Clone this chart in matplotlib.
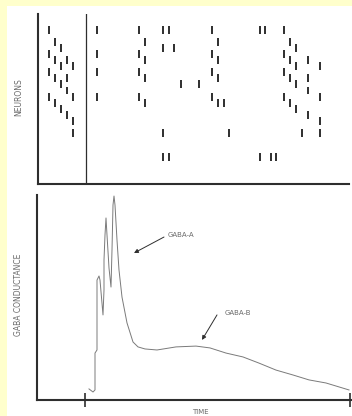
import matplotlib
matplotlib.use('Agg')
import matplotlib.pyplot as plt
from matplotlib.patches import Rectangle

# ========= data =========
# spike raster: one entry per spike time, with the neurons (rows, 0 = top) firing then
spike_times = [11, 17, 23, 29, 35, 59, 101, 107, 125, 131, 136, 143, 161,
               174, 180, 186, 191, 222, 227, 233, 238, 246, 252, 258, 264, 270, 282]
spike_neurons = [[0, 4, 7, 11], [2, 5, 8, 12], [3, 6, 9, 13], [5, 8, 10, 14],
                 [6, 11, 15, 17], [0, 4, 7, 11], [0, 4, 7, 11], [2, 5, 8, 12],
                 [0, 3, 17, 21], [0, 21], [3], [9], [9], [0, 4, 7, 11],
                 [2, 5, 8, 12], [12], [17], [0, 21], [0], [21], [21],
                 [0, 4, 7, 11], [2, 5, 8, 12], [3, 6, 9, 13], [17],
                 [5, 8, 10, 14], [6, 11, 15, 17]]
stim_time = 48
end_time = 312

# GABA conductance trace (arbitrary units)
gaba_t = [51, 55, 57, 57, 59, 59, 61, 62, 65, 66, 66, 67, 68, 69, 71, 73, 74,
          75, 76, 77, 79, 81, 84, 89, 95, 100, 107, 119, 138, 158, 172, 188,
          205, 221, 238, 255, 271, 288, 311]
gaba_g = [5.4, 3.9, 4.9, 22.9, 24.4, 58.5, 60.5, 58.5, 41.5, 53.7, 68.3, 80.5,
          88.8, 80.5, 64.4, 55.1, 73.2, 95.1, 99.5, 95.1, 78.0, 63.4, 50.2,
          37.6, 28.3, 25.9, 24.9, 24.4, 25.9, 26.3, 25.4, 22.9, 21.0, 18.0,
          14.6, 12.2, 9.8, 8.3, 4.9]

ink = '#2e2e2e'
txt = '#6a6a6a'

# ========= figure =========
fig = plt.figure(figsize=(3.52, 4.16), dpi=100)
fig.patch.set_facecolor('#ffffcc')
fig.patches.append(Rectangle((7/352, 0), 1, 410/416, transform=fig.transFigure,
                             facecolor='white', edgecolor='none', zorder=-10))

W, H = 352.0, 416.0
ax1 = fig.add_axes([38/W, 1 - 184/H, 311/W, 170/H])
ax2 = fig.add_axes([37/W, 1 - 400/H, 314/W, 205/H])

for ax in (ax1, ax2):
    ax.set_zorder(1)
    ax.set_facecolor('none')
    ax.spines['top'].set_visible(False)
    ax.spines['right'].set_visible(False)
    for s in ('left', 'bottom'):
        ax.spines[s].set_color(ink)
        ax.spines[s].set_linewidth(1.5)
    ax.set_yticks([])

# ========= raster =========
for t, ns in zip(spike_times, spike_neurons):
    ax1.vlines([t]*len(ns), [n - 0.66 for n in ns], [n + 0.66 for n in ns],
               color=ink, lw=1.4)
ax1.axvline(stim_time, color=ink, lw=0.9)
ax1.set_xlim(0, 311)
ax1.set_ylim(25.45, -2.64)
ax1.set_xticks([])

# ========= conductance =========
ax2.plot(gaba_t, gaba_g, color='#7a7a7a', lw=0.7)
ax2.set_xlim(-1, 313)
ax2.set_ylim(0, 100)
ax2.set_xticks([stim_time - 1, end_time])
ax2.set_xticklabels([])
ax2.tick_params(axis='x', direction='inout', length=10, width=1.2, color=ink)

arr = dict(arrowstyle='-|>', color=ink, lw=0.7, mutation_scale=6, shrinkA=0, shrinkB=0)
ax2.annotate('', xy=(96, 71.7), xytext=(126, 79.5), arrowprops=arr)
ax2.text(130, 80.5, 'GABA-A', fontsize=5, color=txt, ha='left', va='center')
ax2.annotate('', xy=(164, 29.3), xytext=(179, 41.5), arrowprops=arr)
ax2.text(187, 42.4, 'GABA-B', fontsize=5, color=txt, ha='left', va='center')

# ========= labels =========
fig.text(19/W, 1 - 97/H, 'NEURONS', rotation=90, fontsize=5.5, color=txt,
         ha='center', va='center')
fig.text(19/W, 1 - 295/H, 'GABA CONDUCTANCE', rotation=90, fontsize=5.5, color=txt,
         ha='center', va='center')
fig.text(200/W, 1 - 412/H, 'TIME', fontsize=5, color=txt, ha='center', va='center')

fig.savefig('out.png', dpi=100, facecolor=fig.get_facecolor())
